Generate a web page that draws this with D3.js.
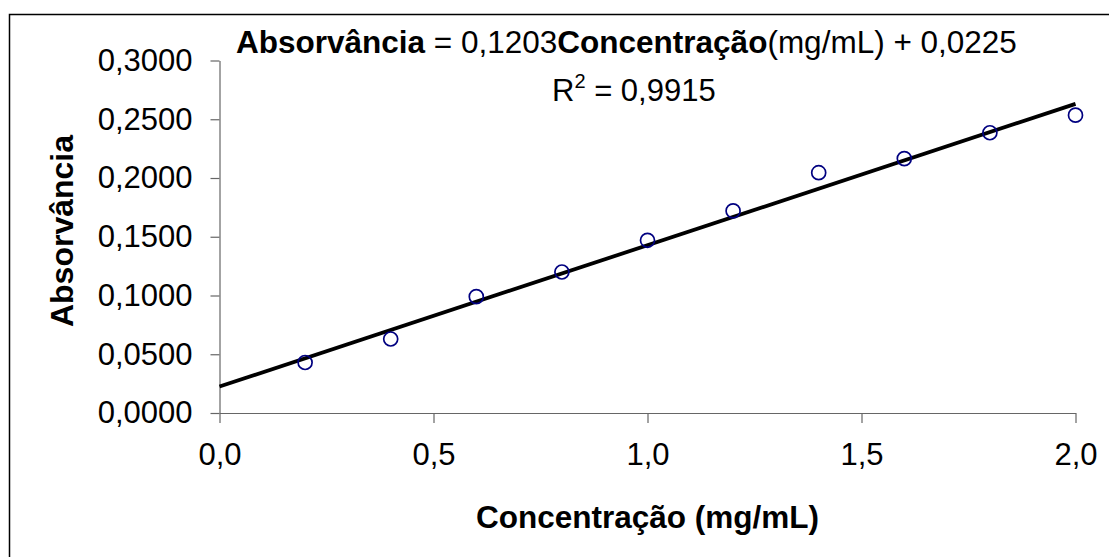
<!DOCTYPE html>
<html>
<head>
<meta charset="utf-8">
<script src="https://cdn.jsdelivr.net/npm/d3@7"></script>
<style>
  body { margin: 0; background: #fff; }
  svg { display: block; font-family: "Liberation Sans", Arial, sans-serif; }
</style>
</head>
<body>
<div id="content"></div>
<script>
// dados
var concentracao = [0.2, 0.4, 0.6, 0.8, 1.0, 1.2, 1.4, 1.6, 1.8, 2.0];
var absorvancia = [0.0430, 0.0630, 0.0990, 0.1200, 0.1470, 0.1720, 0.2045, 0.2165, 0.2385, 0.2535];
var yTicks = [0, 0.05, 0.10, 0.15, 0.20, 0.25, 0.30];
var xTicks = [0, 0.5, 1.0, 1.5, 2.0];
var slope = 0.1203;
var intercept = 0.0225;
var r2 = 0.9915;

var width = 1109, height = 557;

var svg = d3.select("#content")
  .append("svg")
  .attr("width", width)
  .attr("height", height);

// moldura externa (continua alem da imagem)
svg.append("rect")
  .attr("x", 9.5).attr("y", 14.5)
  .attr("width", 1200).attr("height", 700)
  .attr("fill", "none")
  .attr("stroke", "#000")
  .attr("stroke-width", 1.5);

var xScale = d3.scaleLinear()
  .domain([0, 2])
  .range([219.5, 1075.5]);

var yScale = d3.scaleLinear()
  .domain([0, 0.3])
  .range([413, 60.5]);

var virgula = function(casas) {
  return function(d) { return d3.format("." + casas + "f")(d).replace(".", ","); };
};

// eixo x
var xAxis = d3.axisBottom(xScale)
  .tickValues(xTicks)
  .tickSize(10)
  .tickSizeOuter(0)
  .tickPadding(20)
  .tickFormat(virgula(1));

var gx = svg.append("g")
  .attr("transform", "translate(0," + yScale(0) + ")")
  .call(xAxis);

// eixo y
var yAxis = d3.axisLeft(yScale)
  .tickValues(yTicks)
  .tickSize(9)
  .tickSizeOuter(0)
  .tickPadding(18)
  .tickFormat(virgula(4));

var gy = svg.append("g")
  .attr("transform", "translate(" + xScale(0) + ",0)")
  .call(yAxis);

[gx, gy].forEach(function(g) {
  g.selectAll("path, line").attr("stroke", "#666").attr("stroke-width", 1.2);
  g.selectAll("text")
    .attr("fill", "#000")
    .style("font-size", "31px")
    .style("font-family", "'Liberation Sans', Arial, sans-serif");
});
gx.selectAll("text").attr("dy", "0.72em");

// linha de tendencia
svg.append("line")
  .attr("x1", xScale(0))
  .attr("y1", yScale(intercept))
  .attr("x2", xScale(2))
  .attr("y2", yScale(slope * 2 + intercept))
  .attr("stroke", "#000")
  .attr("stroke-width", 3.8)
  .attr("stroke-linecap", "butt");

// pontos
svg.selectAll(".ponto")
  .data(concentracao)
  .enter().append("circle")
  .attr("class", "ponto")
  .attr("cx", function(d) { return xScale(d); })
  .attr("cy", function(d, i) { return yScale(absorvancia[i]); })
  .attr("r", 7)
  .attr("fill", "none")
  .attr("stroke", "#000080")
  .attr("stroke-width", 1.7);

// titulos dos eixos
svg.append("text")
  .attr("x", (xScale(0) + xScale(2)) / 2)
  .attr("y", 528)
  .attr("text-anchor", "middle")
  .style("font-size", "31.5px")
  .style("font-weight", "bold")
  .text("Concentração (mg/mL)");

svg.append("text")
  .attr("transform", "translate(73,231) rotate(-90)")
  .attr("text-anchor", "middle")
  .style("font-size", "32px")
  .style("font-weight", "bold")
  .text("Absorvância");

// equacao
var eq = svg.append("text")
  .attr("x", 236)
  .attr("y", 53)
  .style("font-size", "31.5px");
eq.append("tspan").style("font-weight", "bold").text("Absorvância");
eq.append("tspan").text(" = " + virgula(4)(slope));
eq.append("tspan").style("font-weight", "bold").text("Concentração");
eq.append("tspan").text("(mg/mL) + " + virgula(4)(intercept));

var r = svg.append("text")
  .attr("x", 552)
  .attr("y", 101)
  .style("font-size", "31px");
r.append("tspan").text("R");
r.append("tspan").attr("dy", -13).style("font-size", "20px").text("2");
r.append("tspan").attr("dy", 13).text(" = " + virgula(4)(r2));
</script>
</body>
</html>
